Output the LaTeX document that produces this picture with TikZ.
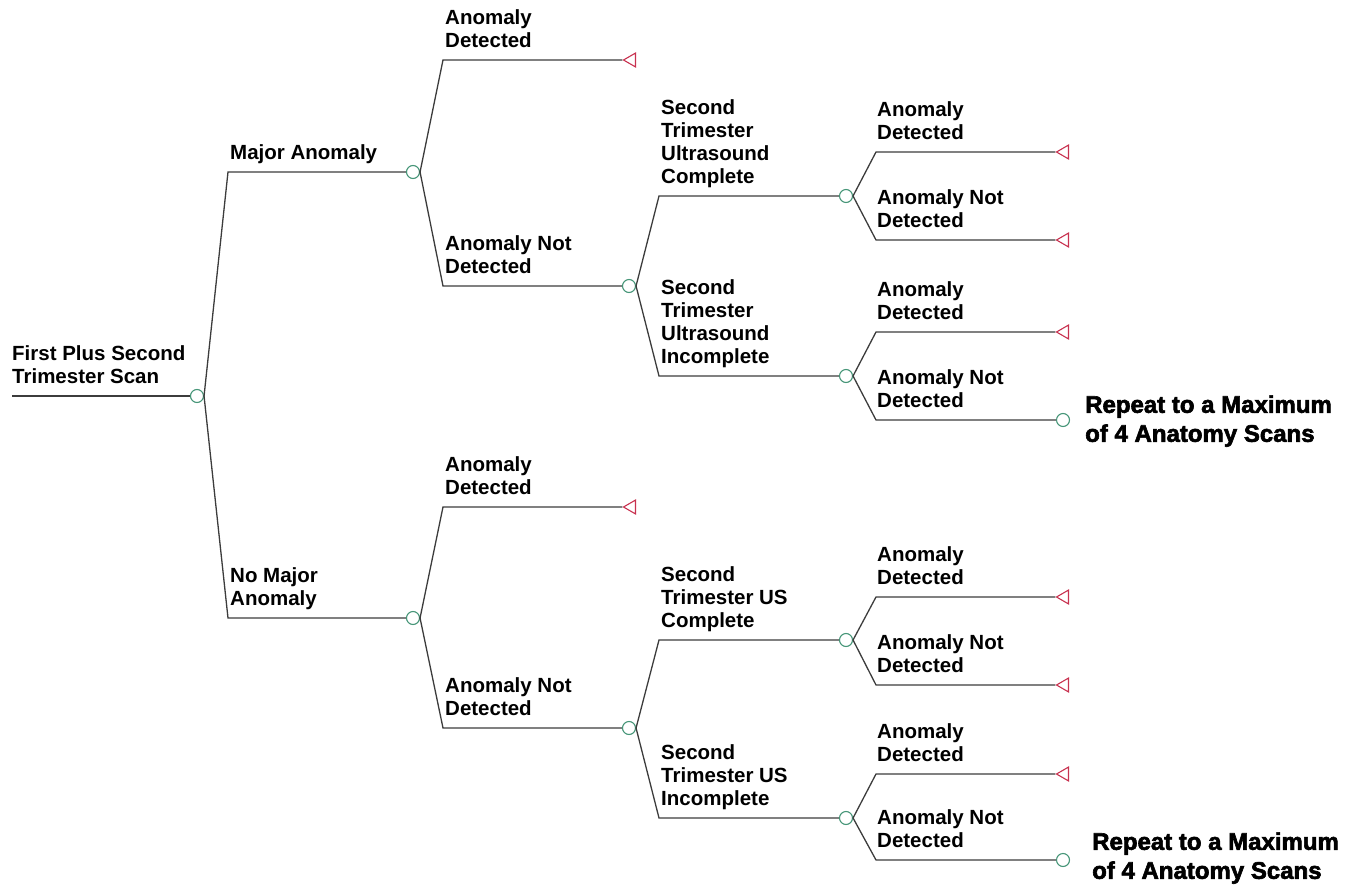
\documentclass[tikz,border=0pt]{standalone}
\usepackage{fontspec}
\setmainfont{Liberation Sans}
\newfontfamily\repfont{Liberation Sans}[BoldFeatures={FakeBold=2.5}]
\usetikzlibrary{shapes.geometric}
\definecolor{edgegray}{RGB}{60,60,60}
\definecolor{chancegreen}{RGB}{70,150,120}
\definecolor{termred}{RGB}{200,50,80}
\tikzset{
  edge/.style={draw=edgegray, line width=1.3pt},
  chance/.style={circle, draw=chancegreen, fill=white, line width=1.1pt, minimum size=13pt, inner sep=0pt},
  term/.style={regular polygon, regular polygon sides=3, shape border rotate=90, draw=termred, line width=1.1pt, minimum size=16pt, inner sep=0pt},
  lbl/.style={anchor=south west, align=left, inner sep=0pt, text depth=0pt, font=\fontsize{20.5}{23}\selectfont\bfseries},
  rep/.style={anchor=south west, align=left, inner sep=0pt, text depth=0pt, font=\repfont\fontsize{24}{29}\selectfont\bfseries}
}
\begin{document}
\begin{tikzpicture}[x=1pt, y=-1pt]
    \useasboundingbox (0, 0) rectangle (1358, 888);
    \coordinate (s) at (12, 396);
    \node[chance] (c0) at (197, 396) {};
    \coordinate (kM) at (228, 172);
    \coordinate (kN) at (228, 618);
    \node[chance] (cM) at (413, 172) {};
    \node[chance] (cN) at (413, 618) {};
    \coordinate (kMa) at (443, 60);
    \coordinate (kMb) at (443, 286);
    \node[term] (tMa) at (631.5, 60) {};
    \node[chance] (cMb) at (629, 286) {};
    \coordinate (kC) at (659, 196);
    \coordinate (kI) at (659, 376);
    \node[chance] (cC) at (846, 196) {};
    \node[chance] (cI) at (846, 376) {};
    \coordinate (kCa) at (876, 152);
    \coordinate (kCb) at (876, 240);
    \coordinate (kIa) at (876, 332);
    \coordinate (kIb) at (876, 420);
    \node[term] (tCa) at (1064.5, 152) {};
    \node[term] (tCb) at (1064.5, 240) {};
    \node[term] (tIa) at (1064.5, 332) {};
    \node[chance] (cIb) at (1063, 420) {};
    \coordinate (kNa) at (443, 507);
    \coordinate (kNb) at (443, 728);
    \node[term] (tNa) at (631.5, 507) {};
    \node[chance] (cNb) at (629, 728) {};
    \coordinate (kD) at (659, 640);
    \coordinate (kE) at (659, 818);
    \node[chance] (cD) at (846, 640) {};
    \node[chance] (cE) at (846, 818) {};
    \coordinate (kDa) at (876, 597);
    \coordinate (kDb) at (876, 685);
    \coordinate (kEa) at (876, 774);
    \coordinate (kEb) at (876, 860);
    \node[term] (tDa) at (1064.5, 597) {};
    \node[term] (tDb) at (1064.5, 685) {};
    \node[term] (tEa) at (1064.5, 774) {};
    \node[chance] (cEb) at (1063, 860) {};

    \draw[edge] (s) -- (c0);
    \draw[edge] (c0.east) -- (kM) -- (cM);
    \draw[edge] (c0.east) -- (kN) -- (cN);
    \draw[edge] (cM.east) -- (kMa) -- (tMa);
    \draw[edge] (cM.east) -- (kMb) -- (cMb);
    \draw[edge] (cMb.east) -- (kC) -- (cC);
    \draw[edge] (cMb.east) -- (kI) -- (cI);
    \draw[edge] (cC.east) -- (kCa) -- (tCa);
    \draw[edge] (cC.east) -- (kCb) -- (tCb);
    \draw[edge] (cI.east) -- (kIa) -- (tIa);
    \draw[edge] (cI.east) -- (kIb) -- (cIb);
    \draw[edge] (cN.east) -- (kNa) -- (tNa);
    \draw[edge] (cN.east) -- (kNb) -- (cNb);
    \draw[edge] (cNb.east) -- (kD) -- (cD);
    \draw[edge] (cNb.east) -- (kE) -- (cE);
    \draw[edge] (cD.east) -- (kDa) -- (tDa);
    \draw[edge] (cD.east) -- (kDb) -- (tDb);
    \draw[edge] (cE.east) -- (kEa) -- (tEa);
    \draw[edge] (cE.east) -- (kEb) -- (cEb);

    \node[lbl] (l0) at (12, 384) {First Plus Second\\Trimester Scan};
    \node[lbl] (lM) at (230, 160) {Major Anomaly};
    \node[lbl] (lN) at (230, 606) {No Major\\Anomaly};
    \node[lbl] (lMa) at (445, 48) {Anomaly\\Detected};
    \node[lbl] (lMb) at (445, 274) {Anomaly Not\\Detected};
    \node[lbl] (lC) at (661, 184) {Second\\Trimester\\Ultrasound\\Complete};
    \node[lbl] (lI) at (661, 364) {Second\\Trimester\\Ultrasound\\Incomplete};
    \node[lbl] (lCa) at (877, 140) {Anomaly\\Detected};
    \node[lbl] (lCb) at (877, 228) {Anomaly Not\\Detected};
    \node[lbl] (lIa) at (877, 320) {Anomaly\\Detected};
    \node[lbl] (lIb) at (877, 408) {Anomaly Not\\Detected};
    \node[rep] (rI) at (1085, 442) {Repeat to a Maximum\\of 4 Anatomy Scans};
    \node[lbl] (lNa) at (445, 495) {Anomaly\\Detected};
    \node[lbl] (lNb) at (445, 716) {Anomaly Not\\Detected};
    \node[lbl] (lD) at (661, 628) {Second\\Trimester US\\Complete};
    \node[lbl] (lE) at (661, 806) {Second\\Trimester US\\Incomplete};
    \node[lbl] (lDa) at (877, 585) {Anomaly\\Detected};
    \node[lbl] (lDb) at (877, 673) {Anomaly Not\\Detected};
    \node[lbl] (lEa) at (877, 762) {Anomaly\\Detected};
    \node[lbl] (lEb) at (877, 848) {Anomaly Not\\Detected};
    \node[rep] (rE) at (1092, 879) {Repeat to a Maximum\\of 4 Anatomy Scans};
\end{tikzpicture}
\end{document}
